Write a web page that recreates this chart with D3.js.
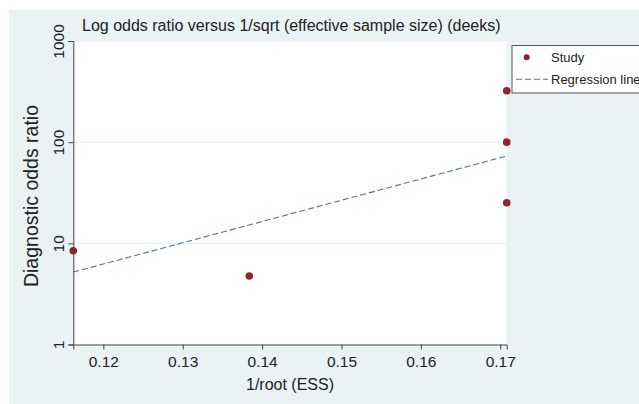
<!DOCTYPE html>
<html><head><meta charset="utf-8">
<script src="https://cdn.jsdelivr.net/npm/d3@7"></script>
<style>
html,body{margin:0;padding:0;background:#fff;}
svg{display:block;font-family:"Liberation Sans",Arial,Helvetica,sans-serif;}
</style></head>
<body>
<svg id="c" width="639" height="404"></svg>
<script>
const studyX = [0.11622, 0.13839, 0.17081, 0.17081, 0.17081];
const studyDOR = [8.45, 4.75, 322, 100, 25.2];
const regX = [0.11622, 0.17081];
const regDOR = [5.2, 73];
const xTicks = [0.12, 0.13, 0.14, 0.15, 0.16, 0.17];
const yTicks = [1, 10, 100, 1000];
const yGrid = [10, 100, 1000];
const title = "Log odds ratio versus 1/sqrt (effective sample size) (deeks)";
const xLabel = "1/root (ESS)";
const yLabel = "Diagnostic odds ratio";
const legendLabels = ["Study", "Regression line"];

const svg = d3.select("#c");
const bg = "#eaf2f3";
const L = 73.3, R = 506.7, T = 41, B = 344.5;

svg.append("rect").attr("x", 9).attr("y", 10).attr("width", 630).attr("height", 394).attr("fill", bg);
svg.append("rect").attr("x", L).attr("y", T).attr("width", R - L).attr("height", B - T).attr("fill", "#fff");

const x = d3.scaleLinear().domain([d3.min(studyX), d3.max(studyX)]).range([L, R]);
const y = d3.scaleLog().domain([1, 1000]).range([B, T]);

// grid
svg.append("g").selectAll("line").data(yGrid).join("line")
  .attr("x1", L).attr("x2", R).attr("y1", d => y(d)).attr("y2", d => y(d))
  .attr("stroke", bg).attr("stroke-width", 1.2);

// regression line
const line = d3.line().x(d => x(d[0])).y(d => y(d[1]));
svg.append("path").datum(regX.map((v, i) => [v, regDOR[i]]))
  .attr("d", line).attr("fill", "none").attr("stroke", "#4f729b")
  .attr("stroke-width", 1.1).attr("stroke-dasharray", "6,3");

// points
svg.append("g").selectAll("circle").data(studyX.map((v, i) => [v, studyDOR[i]])).join("circle")
  .attr("cx", d => x(d[0])).attr("cy", d => y(d[1])).attr("r", 3.8).attr("fill", "#902430");

// axes
const xAxis = svg.append("g").attr("transform", `translate(0,${B})`)
  .call(d3.axisBottom(x).tickValues(xTicks).tickFormat(d3.format(".2f")).tickSizeOuter(0).tickSize(5).tickPadding(6));
xAxis.select(".domain").attr("stroke", "#444");
xAxis.selectAll(".tick line").attr("stroke", "#444");
xAxis.selectAll("text").attr("font-size", 15.5).attr("fill", "#222").attr("font-family", "Liberation Sans, Arial, sans-serif");

const yAxis = svg.append("g").attr("transform", `translate(${L},0)`)
  .call(d3.axisLeft(y).tickValues(yTicks).tickFormat(d3.format("d")).tickSizeOuter(0).tickSize(5));
yAxis.select(".domain").attr("stroke", "#444");
yAxis.selectAll(".tick line").attr("stroke", "#444");
yAxis.selectAll("text").attr("font-size", 15.5).attr("fill", "#222")
  .attr("font-family", "Liberation Sans, Arial, sans-serif")
  .attr("transform", "rotate(-90)").attr("x", 0).attr("y", -9)
  .attr("dy", 0).attr("text-anchor", "middle");

// titles
svg.append("text").attr("x", 82).attr("y", 31).attr("font-size", 16).attr("fill", "#222").text(title);
svg.append("text").attr("x", 290).attr("y", 390).attr("text-anchor", "middle").attr("font-size", 16).attr("fill", "#222").text(xLabel);
svg.append("text").attr("transform", "translate(38,196) rotate(-90)").attr("text-anchor", "middle").attr("font-size", 19.5).attr("fill", "#222").text(yLabel);

// legend
const lg = svg.append("g");
lg.append("rect").attr("x", 512).attr("y", 45.5).attr("width", 140).attr("height", 47.5)
  .attr("fill", "#fff").attr("stroke", "#555").attr("stroke-width", 1);
lg.append("circle").attr("cx", 526.7).attr("cy", 57.3).attr("r", 3).attr("fill", "#902430");
lg.append("line").attr("x1", 516).attr("x2", 548).attr("y1", 79.3).attr("y2", 79.3)
  .attr("stroke", "#4f729b").attr("stroke-width", 1.1).attr("stroke-dasharray", "6,3");
lg.selectAll("text").data(legendLabels).join("text")
  .attr("x", 551).attr("y", (d, i) => 62 + i * 22).attr("font-size", 13).attr("fill", "#222").text(d => d);
</script>
</body></html>
